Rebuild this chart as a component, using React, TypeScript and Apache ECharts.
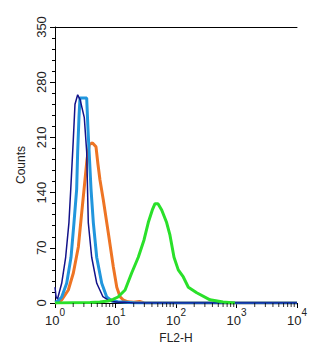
import React, { useEffect, useRef } from "react";
import * as echarts from "echarts";

// FL2-H channel positions (log scale) and counts per histogram
const navyX = [1.0, 1.04, 1.1, 1.29, 1.5, 1.7, 1.82, 2.0, 2.14, 2.37, 2.6, 3.05, 3.34, 3.55, 4.04, 4.9, 6.2, 7.5, 9.0, 11, 14, 20, 10000];
const navyY = [20, 8, 5, 25, 58, 102, 144, 205, 252, 264, 258, 235, 192, 102, 58, 25, 8, 4, 2, 1, 1, 0, 0];

const blueX = [1.0, 1.12, 1.29, 1.56, 1.84, 2.06, 2.28, 2.37, 2.49, 2.59, 3.34, 3.51, 3.72, 3.94, 4.3, 4.89, 5.92, 7.16, 8.7, 11, 15, 22, 10000];
const blueY = [1, 2.5, 7.6, 25, 58, 102, 144, 192, 235, 260, 260, 220, 182, 144, 102, 58, 25, 7.6, 2.5, 1.5, 1, 0, 0];

const orangeX = [1.0, 1.15, 1.29, 1.66, 2.01, 2.43, 2.76, 3.13, 3.38, 3.69, 4.17, 4.76, 5.13, 5.54, 6.28, 7.6, 9.2, 10.5, 11.9, 13.3, 16, 20, 25, 30, 10000];
const orangeY = [0, 1, 4, 16.5, 38, 71, 114, 156, 182, 201, 203, 198, 176, 156, 131, 89, 46, 20, 8, 4, 1.5, 1, 2, 0, 0];

const greenX = [1.0, 3.8, 5.5, 7.5, 9.1, 11, 14.4, 18.5, 23.8, 29.6, 34.8, 40.6, 45, 50.4, 58, 70, 79.5, 92.7, 109, 132, 160, 220, 365, 598, 940];
const greenY = [0, 0.5, 1.2, 2.5, 4.5, 7.6, 16.5, 38, 58, 80, 102, 118, 126, 126, 118, 102, 86, 58, 42, 33, 20, 13, 4, 1.3, 0];

const xDecades = [1, 10, 100, 1000];
const xMinorMultipliers = [2, 3, 4, 5, 6, 7, 8, 9];

const pairs = (xs: number[], ys: number[]) => xs.map((x, i) => [x, ys[i]]);

export default function App() {
  const ref = useRef<HTMLDivElement>(null);
  useEffect(() => {
    if (!ref.current) return;
    const chart = echarts.init(ref.current, null, { renderer: "svg" });
    const font = "'Liberation Sans', Arial, sans-serif";
    const minorTicks: number[][] = [];
    xDecades.forEach((d) => xMinorMultipliers.forEach((m) => minorTicks.push([d * m, 0])));
    const mk = (name: string, xs: number[], ys: number[], color: string, width: number) => ({
      name,
      type: "line",
      xAxisIndex: 0,
      yAxisIndex: 0,
      data: pairs(xs, ys),
      showSymbol: false,
      symbol: "none",
      lineStyle: { color, width },
      silent: true,
      z: 3,
    });
    chart.setOption({
      animation: false,
      backgroundColor: "#ffffff",
      grid: { left: 55, right: 35, top: 27, bottom: 54, containLabel: false },
      xAxis: [
        {
          type: "log",
          logBase: 10,
          min: 1,
          max: 10000,
          position: "bottom",
          name: "FL2-H",
          nameLocation: "middle",
          nameGap: 25,
          nameTextStyle: { fontFamily: font, fontSize: 12, color: "#222" },
          axisLine: { show: true, lineStyle: { color: "#000", width: 1 } },
          axisTick: { show: true, length: 5, lineStyle: { color: "#000" } },
          splitLine: { show: false },
          axisLabel: {
            margin: 4,
            formatter: (v: number) => `{b|10}{s|${Math.round(Math.log10(v))}}`,
            rich: {
              b: { fontFamily: font, fontSize: 13, color: "#222", lineHeight: 20, verticalAlign: "bottom" },
              s: { fontFamily: font, fontSize: 10, color: "#222", lineHeight: 20, verticalAlign: "top" },
            },
          },
        },
        {
          type: "log",
          logBase: 10,
          min: 1,
          max: 10000,
          position: "top",
          axisLine: { show: true, lineStyle: { color: "#000", width: 1 } },
          axisTick: { show: false },
          axisLabel: { show: false },
          splitLine: { show: false },
        },
      ],
      yAxis: {
        type: "value",
        min: 0,
        max: 350,
        interval: 70,
        name: "Counts",
        nameLocation: "middle",
        nameGap: 21,
        nameTextStyle: { fontFamily: font, fontSize: 12, color: "#222" },
        axisLine: { show: true, lineStyle: { color: "#000", width: 1 } },
        axisTick: { show: true, length: 5, lineStyle: { color: "#000" } },
        minorTick: { show: true, splitNumber: 5, length: 3, lineStyle: { color: "#000" } },
        splitLine: { show: false },
        axisLabel: {
          rotate: 90,
          margin: 7,
          fontFamily: font,
          fontSize: 13,
          color: "#222",
        },
      },
      series: [
        {
          type: "scatter",
          name: "minorTicks",
          xAxisIndex: 0,
          yAxisIndex: 0,
          clip: false,
          silent: true,
          z: 10,
          data: minorTicks,
          symbol: "rect",
          symbolSize: [1, 4],
          symbolOffset: [0, 2],
          itemStyle: { color: "#000" },
        },
        mk("orange", orangeX, orangeY, "#ee7424", 3),
        mk("blue", blueX, blueY, "#2196dd", 3),
        mk("navy", navyX, navyY, "#12128a", 1.5),
        mk("green", greenX, greenY, "#2ae02a", 3),
      ],
    });
    return () => chart.dispose();
  }, []);
  return <div ref={ref} style={{ width: 332, height: 357, margin: -8 }} />;
}
